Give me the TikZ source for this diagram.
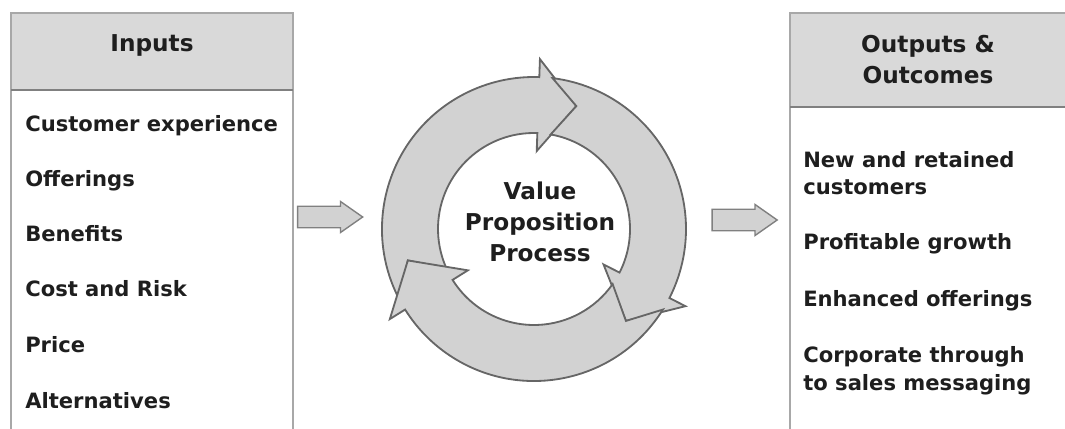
\documentclass[tikz,border=0pt]{standalone}
\usepackage{fontspec}
\setmainfont{DejaVu Sans}
\usepackage{tikz}
\usetikzlibrary{shapes.arrows}

\definecolor{boxgray}{HTML}{A8A8A8}
\definecolor{headgray}{HTML}{D9D9D9}
\definecolor{ringgray}{HTML}{D2D2D2}
\definecolor{linegray}{HTML}{666666}
\definecolor{textblack}{HTML}{1E1E1E}

\tikzset{
	boxline/.style={draw=boxgray, line width=1.4pt},
	headfill/.style={fill=headgray},
	headline/.style={draw=gray, line width=2pt},
	headtext/.style={font=\bfseries\fontsize{16.5}{22}\selectfont, text=textblack, align=center},
	itemtext/.style={font=\bfseries\fontsize{15}{19.9}\selectfont, text=textblack, align=left, inner sep=0pt, anchor=base west},
	ringarrow/.style={fill=ringgray, draw=linegray, line width=1.3pt, line join=miter},
	blockarrow/.style={single arrow, fill=ringgray, draw=gray, line width=1pt, minimum height=1.625cm, minimum width=0.75cm, text height=0.5cm, text depth=0pt, single arrow head extend=0.12cm, single arrow tip angle=70, inner sep=0pt}
}

\begin{document}
\begin{tikzpicture}[x=0.025cm, y=0.025cm]
	\useasboundingbox (0,0) rectangle (1065,428);
	
	%inputs box
	\fill[headfill] (11,338) rectangle (293,415);
	\draw[boxline] (11,-10) rectangle (293,415);
	\draw[headline] (11,338) -- (293,338);
	\node[headtext] (inputs) at (152,383) {Inputs};
	\node[itemtext] (custexp)  at (25,296) {Customer experience};
	\node[itemtext] (offer)    at (25,241) {Offerings};
	\node[itemtext] (benefits) at (25,186) {Benefits};
	\node[itemtext] (costrisk) at (25,131) {Cost and Risk};
	\node[itemtext] (price)    at (25,75)  {Price};
	\node[itemtext] (altern)   at (25,20)  {Alternatives};
	
	%outputs box
	\fill[headfill] (790,321) rectangle (1075,415);
	\draw[boxline] (790,-10) rectangle (1075,415);
	\draw[headline] (790,321) -- (1075,321);
	\node[headtext] (outputs) at (928,368) {Outputs \&\\Outcomes};
	\node[itemtext] (newcust)  at (803,233) {New and retained\\customers};
	\node[itemtext] (growth)   at (803,178) {Profitable growth};
	\node[itemtext] (enhanced) at (803,121) {Enhanced offerings};
	\node[itemtext] (corp)     at (803,38)  {Corporate through\\to sales messaging};
	
	%block arrows
	\node[blockarrow] (inarrow)  at (322.5,211) {};
	\node[blockarrow] (outarrow) at (737,208) {};
	
	%cycle
	\begin{scope}[shift={(534,199)}]
		\draw[ringarrow] (207:152) arc[start angle=207, end angle=88, radius=152]
			-- (88:170) -- (71:130) -- (88:78) -- (88:96)
			arc[start angle=88, end angle=204, radius=96] -- (194:130) -- cycle;	%top
		\draw[ringarrow] (83:152) arc[start angle=83, end angle=-27, radius=152]
			-- (-27:170) -- (-45:130) -- (-27:78) -- (-27:96)
			arc[start angle=-27, end angle=80, radius=96] -- (71:130) -- cycle;	%right
		\draw[ringarrow] (-32:152) arc[start angle=-32, end angle=-148, radius=152]
			-- (-148:170) -- (-166:130) -- (-148:78) -- (-148:96)
			arc[start angle=-148, end angle=-35, radius=96] -- (-45:130) -- cycle;	%bottom
	\end{scope}
	\node[headtext] (vpp) at (540,206) {Value\\Proposition\\Process};
	
	%\draw[help lines] (0,0) grid (1065,428);
\end{tikzpicture}
\end{document}
